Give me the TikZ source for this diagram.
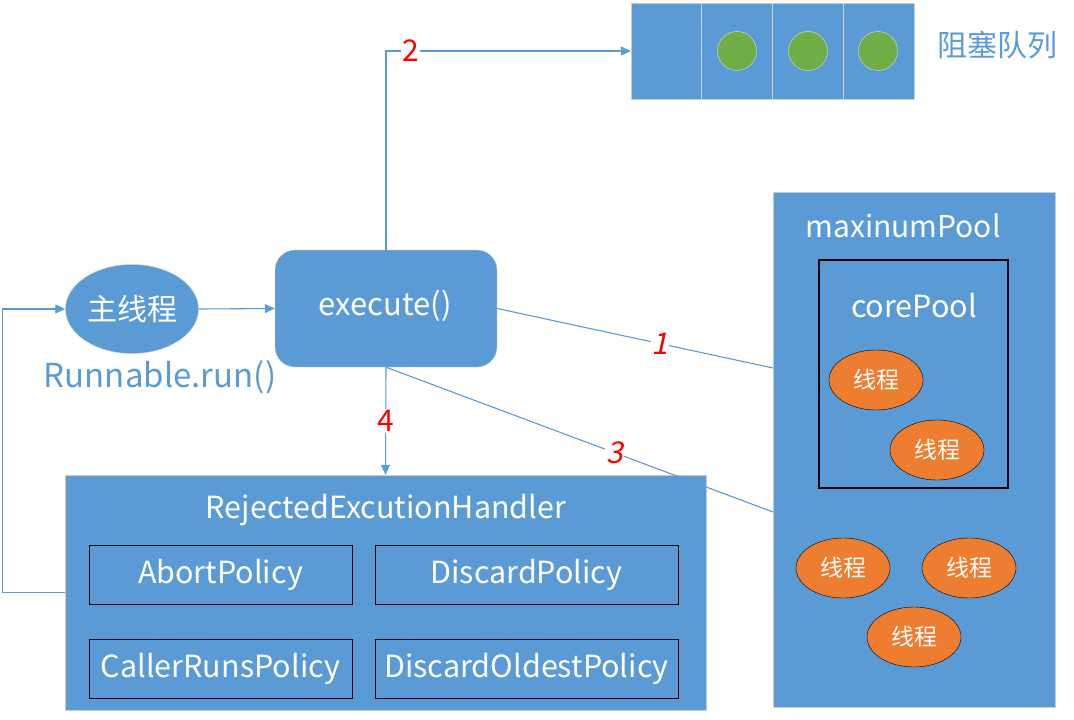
\documentclass[tikz,border=0pt]{standalone}
\usepackage{fontspec}
\setmainfont{Noto Sans CJK SC}
\newfontfamily\slantfont[FakeSlant=0.22]{Noto Sans CJK SC}
\usetikzlibrary{shapes,arrows,positioning,calc,arrows.meta}

\definecolor{boxblue}{HTML}{5B9BD5}
\definecolor{thorange}{HTML}{ED7D31}
\definecolor{qgreen}{HTML}{70AD47}

\tikzset{
    bluebox/.style={draw=gray!40, fill=boxblue, text=white, inner sep=0pt},
    policy/.style={draw=black, fill=boxblue, text=white, minimum width=263pt, minimum height=59pt, inner sep=0pt, font=\fontsize{30.5}{32}\selectfont},
    thread/.style={ellipse, draw=black, fill=thorange, text=white, minimum width=94pt, minimum height=60pt, inner sep=0pt, font=\fontsize{23}{26}\selectfont},
    conn/.style={draw=boxblue, line width=1.1pt},
    num/.style={fill=white, text=red, inner sep=1pt, font=\fontsize{30}{32}\selectfont},
    tip/.style={-{Triangle[length=10pt,width=9pt]}}
}

\begin{document}
\begin{tikzpicture}[x=1pt, y=-1pt]
    \useasboundingbox (0,0) rectangle (1074,720);

    % Blocking queue
    \node[bluebox, minimum width=283pt, minimum height=96pt] (queue) at (772.5,51) {};
    \foreach \i/\x in {1/701,2/772,3/843}
        \draw[gray!35, line width=1pt] (\x,3) -- (\x,99);
    \foreach \i/\x in {1/737,2/808,3/878}
        \node[circle, draw=gray!30, fill=qgreen, minimum size=39pt, inner sep=0pt] (job\i) at (\x,51) {};
    \node[text=boxblue, font=\fontsize{30}{32}\selectfont] (qlabel) at (997,45) {阻塞队列};

    % Main thread and execute
    \node[ellipse, bluebox, minimum width=133pt, minimum height=89pt, font=\fontsize{30}{32}\selectfont] (main) at (132,309) {主线程};
    \node[text=boxblue, font=\fontsize{33}{35}\selectfont] (run) at (160,377) {Runnable.run()};
    \node[bluebox, rounded corners=20pt, minimum width=222pt, minimum height=117pt] (exec) at (386,308.5) {};
    \node[text=white, font=\fontsize{31}{33}\selectfont] (exectxt) at (385,306) {execute()};

    % Rejected handler
    \node[bluebox, minimum width=641pt, minimum height=235pt] (handler) at (385.5,592.5) {};
    \node[text=white, font=\fontsize{30.5}{32}\selectfont] (htitle) at (386,510) {RejectedExcutionHandler};
    \node[policy] (abort) at (220.5,574.5) {AbortPolicy};
    \node[policy, minimum width=303pt] (discard) at (526.5,574.5) {DiscardPolicy};
    \node[policy] (caller) at (220.5,668.5) {CallerRunsPolicy};
    \node[policy, minimum width=303pt] (oldest) at (526.5,668.5) {DiscardOldestPolicy};

    % Thread pools
    \node[bluebox, minimum width=282pt, minimum height=515pt] (pool) at (914,449.5) {};
    \node[text=white, font=\fontsize{30}{32}\selectfont] (ptitle) at (903,226) {maxinumPool};
    \node[draw=black, line width=1.2pt, minimum width=189pt, minimum height=228pt, inner sep=0pt] (core) at (913.5,374) {};
    \node[text=white, font=\fontsize{30.5}{32}\selectfont] (ctitle) at (914,306) {corePool};
    \node[thread] (t1) at (876,380) {线程};
    \node[thread] (t2) at (937,450) {线程};
    \node[thread] (t3) at (843,568) {线程};
    \node[thread] (t4) at (969,568) {线程};
    \node[thread] (t5) at (914,637) {线程};

    \coordinate (in1) at (773,368);
    \coordinate (in3) at (773,512);

    % Connectors
    \draw[conn, tip] (main.east) -- (exec.west);
    \draw[conn, tip] (handler.west) -- ++(-62,0) |- (main.west);
    \draw[conn, tip] (exec.north) |- (queue.west) node[num, pos=0.55] {2};
    \draw[conn] (exec.east) -- (in1) node[num, pos=0.59] {\slantfont 1};
    \draw[conn] (exec.south) -- (in3) node[num, pos=0.59] {\slantfont 3};
    \draw[conn, tip] (exec.south) -- (handler.north) node[num, midway] {4};
\end{tikzpicture}
\end{document}
